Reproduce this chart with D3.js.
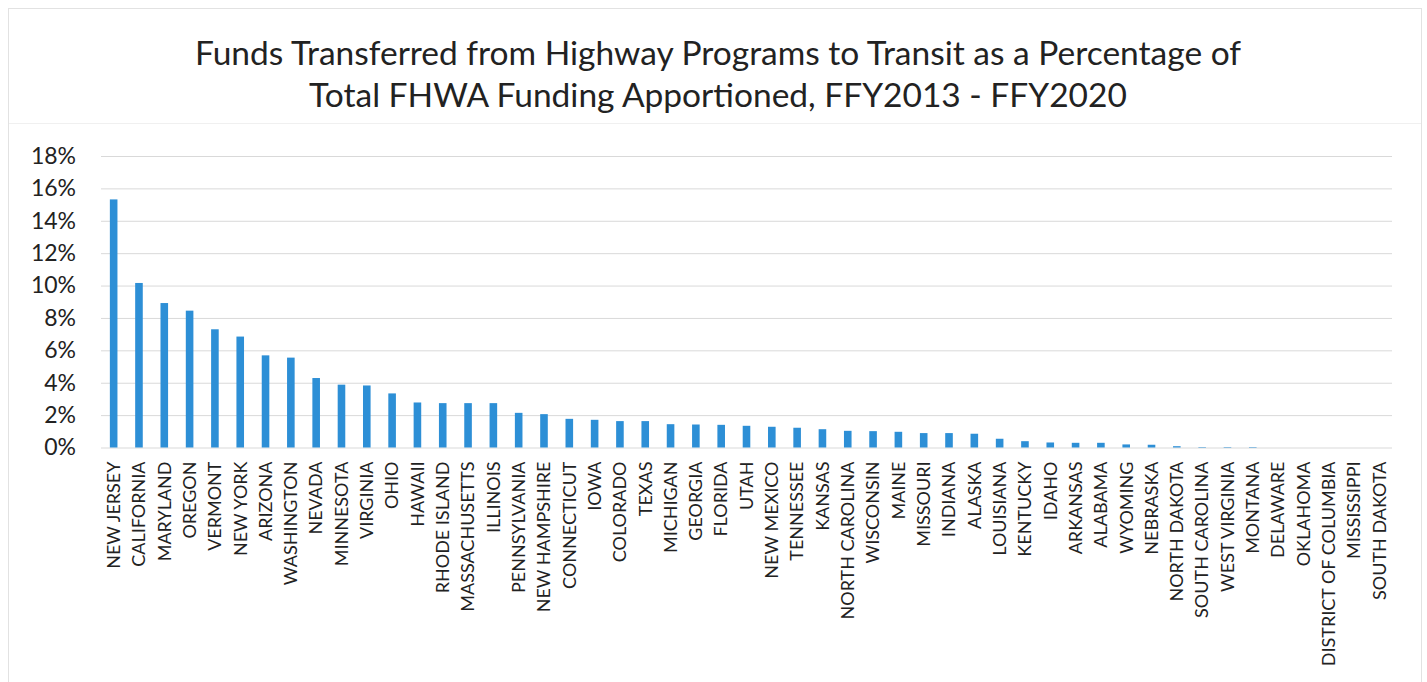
<!DOCTYPE html>
<html>
<head>
<meta charset="utf-8">
<script src="https://cdn.jsdelivr.net/npm/d3@7"></script>
<style>
  body { margin: 0; background: #fff; }
  #chart { width: 1427px; height: 682px; }
  text { font-family: Lato, "Open Sans", sans-serif; fill: #222; }
</style>
</head>
<body>
<div id="chart"></div>
<script>
// states, sorted as in the source chart
let states = ["NEW JERSEY", "CALIFORNIA", "MARYLAND", "OREGON", "VERMONT", "NEW YORK",
  "ARIZONA", "WASHINGTON", "NEVADA", "MINNESOTA", "VIRGINIA", "OHIO", "HAWAII",
  "RHODE ISLAND", "MASSACHUSETTS", "ILLINOIS", "PENNSYLVANIA", "NEW HAMPSHIRE",
  "CONNECTICUT", "IOWA", "COLORADO", "TEXAS", "MICHIGAN", "GEORGIA", "FLORIDA", "UTAH",
  "NEW MEXICO", "TENNESSEE", "KANSAS", "NORTH CAROLINA", "WISCONSIN", "MAINE",
  "MISSOURI", "INDIANA", "ALASKA", "LOUISIANA", "KENTUCKY", "IDAHO", "ARKANSAS",
  "ALABAMA", "WYOMING", "NEBRASKA", "NORTH DAKOTA", "SOUTH CAROLINA", "WEST VIRGINIA",
  "MONTANA", "DELAWARE", "OKLAHOMA", "DISTRICT OF COLUMBIA", "MISSISSIPPI", "SOUTH DAKOTA"];
// percent of total FHWA apportionment transferred
let pct = [15.32, 10.16, 8.92, 8.45, 7.30, 6.85,
  5.69, 5.55, 4.29, 3.88, 3.83, 3.34, 2.78,
  2.74, 2.74, 2.74, 2.14, 2.06,
  1.77, 1.71, 1.63, 1.63, 1.44, 1.42, 1.40, 1.34,
  1.28, 1.22, 1.13, 1.03, 1.01, 0.97,
  0.89, 0.89, 0.85, 0.54, 0.39, 0.31, 0.29,
  0.29, 0.19, 0.17, 0.08, 0.03, 0.03,
  0.03, 0, 0, 0, 0, 0];
let yTicks = [0, 2, 4, 6, 8, 10, 12, 14, 16, 18];
let titleLines = ["Funds Transferred from Highway Programs to Transit as a Percentage of",
  "Total FHWA Funding Apportioned, FFY2013 - FFY2020"];

let data = states.map((s, i) => ({ state: s, value: pct[i] }));

let width = 1427, height = 682;
let svg = d3.select("#chart").append("svg")
  .attr("width", width).attr("height", height);

// faint frame of the scanned chart
svg.append("rect")
  .attr("x", 8.5).attr("y", 8.5)
  .attr("width", 1413).attr("height", 700)
  .attr("fill", "none").attr("stroke", "#e2e2e2");
svg.append("line")
  .attr("x1", 9).attr("x2", 1421).attr("y1", 123.5).attr("y2", 123.5)
  .attr("stroke", "#f0f0f0");

// title
svg.append("g").selectAll("text")
  .data(titleLines)
  .join("text")
  .attr("x", 718)
  .attr("y", (d, i) => 65 + i * 42)
  .attr("text-anchor", "middle")
  .attr("font-size", 33.5)
  .text(d => d);

let x = d3.scaleBand()
  .domain(states)
  .range([101, 1392])
  .paddingInner(0.7)
  .paddingOuter(0.35);
let y = d3.scaleLinear()
  .domain([0, 18])
  .range([447.5, 156]);

// gridlines
svg.append("g")
  .attr("transform", "translate(101,0)")
  .call(d3.axisLeft(y).tickValues(yTicks).tickSize(-1291).tickFormat(""))
  .call(g => g.select(".domain").remove())
  .call(g => g.selectAll(".tick line").attr("stroke", "#d9d9d9"));

// y axis labels
svg.append("g")
  .attr("transform", "translate(76,0)")
  .call(d3.axisLeft(y).tickValues(yTicks).tickSize(0).tickPadding(0).tickFormat(d => d + "%"))
  .call(g => g.select(".domain").remove())
  .call(g => g.selectAll("text")
    .attr("font-size", 23)
    .attr("font-family", "Lato, 'Open Sans', sans-serif")
    .attr("fill", "#222"));

// bars
svg.append("g").selectAll("rect")
  .data(data)
  .join("rect")
  .attr("x", d => x(d.state))
  .attr("y", d => y(d.value))
  .attr("width", x.bandwidth())
  .attr("height", d => y(0) - y(d.value))
  .attr("fill", "#2d8fd6");

// x axis labels, rotated
let xAxis = svg.append("g")
  .attr("transform", `translate(0,${y(0)})`)
  .call(d3.axisBottom(x).tickSize(0).tickPadding(0));
xAxis.select(".domain").remove();
xAxis.selectAll("text")
  .attr("transform", "translate(0,14) rotate(-90)")
  .attr("x", 0).attr("y", 0).attr("dy", "0.35em")
  .attr("text-anchor", "end")
  .attr("font-size", 18)
  .attr("font-family", "Lato, 'Open Sans', sans-serif")
  .attr("fill", "#222");
</script>
</body>
</html>
